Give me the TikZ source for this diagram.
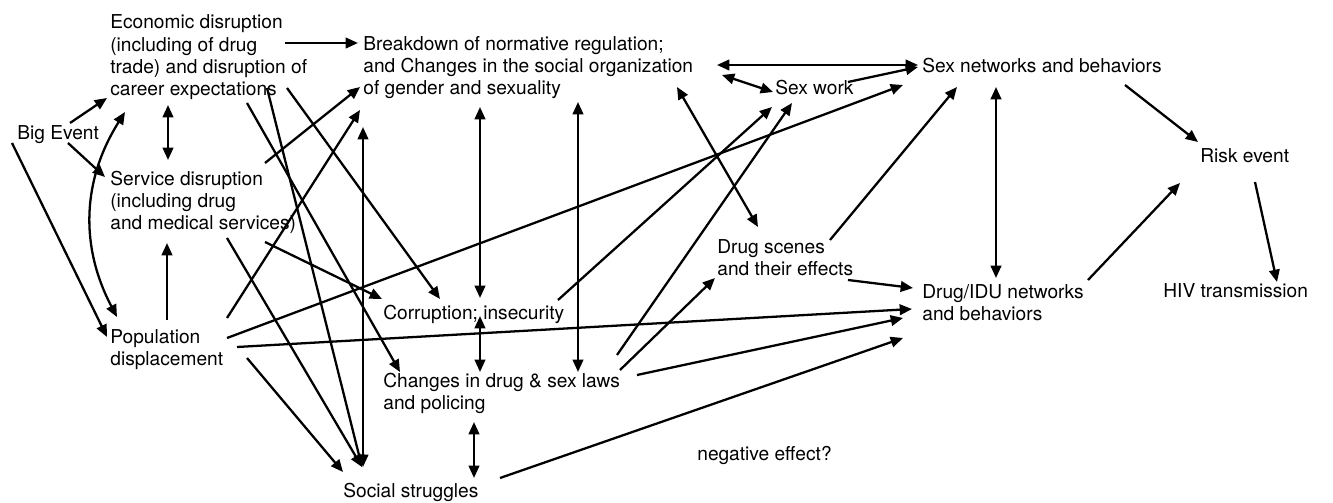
\documentclass[tikz,border=0pt]{standalone}
\usepackage{fontspec}
\setmainfont{TeX Gyre Heros}
\usetikzlibrary{arrows.meta,calc}

\begin{document}
\begin{tikzpicture}[
    x=0.02cm, y=-0.02cm,
    font=\fontsize{10.9}{12.8}\selectfont,
    box/.style={anchor=base west, align=left, inner sep=0pt},
    arrow/.style={-{Triangle[length=7pt,width=6pt]}, line width=1.3pt},
    twoway/.style={{Triangle[length=7pt,width=6pt]}-{Triangle[length=7pt,width=6pt]}, line width=1.3pt}
]
    \useasboundingbox (0,0) rectangle (1333,503);

    % Causes (placed at the baseline of the last line)
    \node[box] (big) at (17,140) {Big Event};
    \node[box] (eco) at (110,96) {Economic disruption\\(including of drug\\trade) and disruption of\\career expectations};
    \node[box] (srv) at (110,230) {Service disruption\\(including drug\\and medical services)};
    \node[box] (pop) at (110,366) {Population\\displacement};

    % Social context
    \node[box] (brk) at (363,95) {Breakdown of normative regulation;\\and Changes in the social organization\\of gender and sexuality};
    \node[box] (cor) at (383,320) {Corruption; insecurity};
    \node[box] (chg) at (383,410) {Changes in drug \& sex laws\\and policing};
    \node[box] (soc) at (343,498) {Social struggles};
    \node[box] (neg) at (697,460) {negative effect?};

    % Networks and outcomes
    \node[box] (sexw) at (775,95) {Sex work};
    \node[box] (scn) at (717,276) {Drug scenes\\and their effects};
    \node[box] (sexn) at (922,73) {Sex networks and behaviors};
    \node[box] (idu) at (922,321) {Drug/IDU networks\\and behaviors};
    \node[box] (risk) at (1200,163) {Risk event};
    \node[box] (hiv) at (1163,298) {HIV transmission};

    % From the big event
    \draw[arrow] ($(big.base west)+(53,-17)$) -- ($(eco.base west)+(-3,2)$);
    \draw[arrow] ($(big.base west)+(51,3)$) -- ($(srv.base west)+(-5,-53)$);
    \draw[arrow] ($(big.base west)+(-5,3)$) -- ($(pop.base west)+(-3,-29)$);

    % Among the disruptions
    \draw[twoway] ($(eco.base west)+(58,9)$) -- ($(srv.base west)+(58,-70)$);
    \draw[twoway] ($(eco.base west)+(15,16)$) to[bend right=30] ($(pop.base west)+(7,-49)$);
    \draw[arrow] ($(pop.base west)+(57,-46)$) -- ($(srv.base west)+(57,13)$);

    % Disruptions to social context
    \draw[arrow] ($(eco.base west)+(175,-53)$) -- ($(brk.base west)+(-5,-52)$);
    \draw[arrow] ($(srv.base west)+(155,-67)$) -- ($(brk.base west)+(-3,-8)$);
    \draw[arrow] ($(pop.base west)+(117,-48)$) -- ($(brk.base west)+(-3,15)$);
    \draw[arrow] ($(eco.base west)+(177,-8)$) -- ($(cor.base west)+(57,-21)$);
    \draw[arrow] ($(srv.base west)+(155,12)$) -- ($(cor.base west)+(-1,-21)$);
    \draw[arrow] ($(eco.base west)+(137,7)$) -- ($(chg.base west)+(17,-38)$);
    \draw[arrow] ($(eco.base west)+(157,-8)$) -- ($(soc.base west)+(19,-31)$);
    \draw[arrow] ($(srv.base west)+(117,8)$) -- ($(soc.base west)+(19,-31)$);
    \draw[arrow] ($(pop.base west)+(137,-8)$) -- ($(soc.base west)+(0,-26)$);
    \draw[arrow] ($(pop.base west)+(117,-28)$) -- ($(sexn.base west)+(-19,12)$);
    \draw[arrow] ($(pop.base west)+(127,-19)$) -- ($(idu.base west)+(-10,-12)$);

    % Within the social context
    \draw[twoway] ($(brk.base west)+(0,32)$) -- ($(soc.base west)+(20,-31)$);
    \draw[twoway] ($(brk.base west)+(117,12)$) -- ($(cor.base west)+(97,-22)$);
    \draw[twoway] ($(brk.base west)+(215,7)$) -- ($(chg.base west)+(195,-38)$);
    \draw[twoway] ($(cor.base west)+(97,-4)$) -- ($(chg.base west)+(97,-38)$);
    \draw[twoway] ($(chg.base west)+(91,12)$) -- ($(soc.base west)+(131,-20)$);

    % Social context to networks
    \draw[twoway] ($(brk.base west)+(354,-30)$) -- ($(sexn.base west)+(-4,-8)$);
    \draw[twoway] ($(brk.base west)+(359,-20)$) -- ($(sexw.base west)+(-2,-3)$);
    \draw[twoway] ($(brk.base west)+(314,-8)$) -- ($(scn.base west)+(41,-49)$);
    \draw[arrow] ($(cor.base west)+(175,-20)$) -- ($(sexw.base west)+(-3,12)$);
    \draw[arrow] ($(chg.base west)+(234,-55)$) -- ($(sexw.base west)+(17,8)$);
    \draw[arrow] ($(chg.base west)+(237,-40)$) -- ($(scn.base west)+(-2,2)$);
    \draw[arrow] ($(chg.base west)+(254,-35)$) -- ($(idu.base west)+(-19,-3)$);
    \draw[arrow] ($(soc.base west)+(157,-20)$) -- ($(idu.base west)+(-19,17)$);

    % Networks to transmission
    \draw[arrow] ($(sexw.base west)+(73,-13)$) -- ($(sexn.base west)+(-4,-6)$);
    \draw[arrow] ($(scn.base west)+(131,4)$) -- ($(idu.base west)+(-9,-33)$);
    \draw[arrow] ($(scn.base west)+(113,-36)$) -- ($(sexn.base west)+(35,14)$);
    \draw[twoway] ($(sexn.base west)+(74,14)$) -- ($(idu.base west)+(74,-43)$);
    \draw[arrow] ($(sexn.base west)+(203,12)$) -- ($(risk.base west)+(-2,-21)$);
    \draw[arrow] ($(idu.base west)+(166,-41)$) -- ($(risk.base west)+(-20,20)$);
    \draw[arrow] ($(risk.base west)+(55,19)$) -- ($(hiv.base west)+(114,-16)$);

\end{tikzpicture}
\end{document}
